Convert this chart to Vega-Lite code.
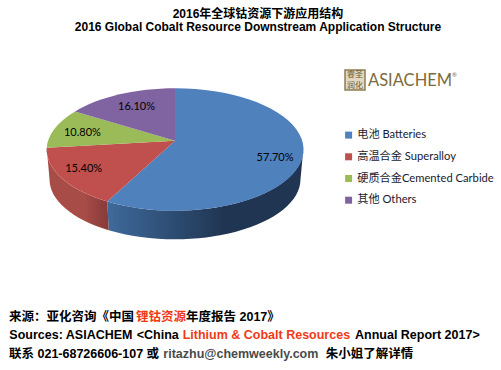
{"$schema":"https://vega.github.io/schema/vega-lite/v6.json","width":501,"height":370,"padding":0,"autosize":"none","background":"white","view":{"stroke":null},
"title":{"text":"2016年全球钴资源下游应用结构","subtitle":"2016 Global Cobalt Resource Downstream Application Structure","font":"Liberation Sans, Noto Sans CJK SC","subtitleFont":"Liberation Sans","fontSize":12,"subtitleFontSize":12,"fontWeight":"bold","subtitleFontWeight":"bold","color":"#000000","subtitleColor":"#000000","subtitlePadding":1,"anchor":"middle","frame":"group","dx":7.5,"dy":34,"offset":0},
"data":{"values":[{"name":"电池 Batteries","share":57.7},{"name":"高温合金 Superalloy","share":15.4},{"name":"硬质合金Cemented Carbide","share":10.8},{"name":"其他 Others","share":16.1}]},
"encoding":{"x":{"type":"quantitative","scale":{"domain":[-175,326],"nice":false,"zero":false},"axis":null},"y":{"type":"quantitative","scale":{"domain":[-225,145],"nice":false,"zero":false},"axis":null}},
"layer":[
{"transform":[{"filter":"datum.share==57.7"}],"mark":{"type":"point","filled":true,"opacity":1,"size":4,"strokeWidth":0,"shape":"M-67.7 56.4 L-66.3 85.2 A125.5 60 0 0 0 125.5 34.3 L128.3 4.5 A128.3 61.2 0 0 1 -67.7 56.4 Z","fill":{"gradient":"linear","x1":0,"y1":0,"x2":1,"y2":0,"stops":[{"offset":0,"color":"#3f6a9b"},{"offset":0.6,"color":"#1f3552"},{"offset":1,"color":"#1f3552"}]}},"encoding":{"x":{"datum":0},"y":{"datum":0}}},
{"transform":[{"filter":"datum.share==15.4"}],"mark":{"type":"point","filled":true,"opacity":1,"size":4,"strokeWidth":0,"shape":"M-128.3 2.7 L-125.5 34.3 A125.5 60 0 0 0 -66.3 85.2 L-67.7 56.4 A128.3 61.2 0 0 1 -128.3 2.7 Z","fill":{"gradient":"linear","x1":0,"y1":0,"x2":1,"y2":0,"stops":[{"offset":0,"color":"#a84c48"},{"offset":0.6,"color":"#a84c48"},{"offset":1,"color":"#863a37"}]}},"encoding":{"x":{"datum":0},"y":{"datum":0}}},
{"mark":{"type":"point","filled":true,"opacity":1,"size":4,"strokeWidth":0},
"encoding":{"x":{"datum":0},"y":{"datum":0},"shape":{"field":"share","type":"nominal","legend":null,"scale":{"domain":[57.7,15.4,10.8,16.1],"range":["M0 -4.3 L0 -56.7 A128.3 61.2 0 1 1 -67.7 56.4 Z","M0 -4.3 L-67.7 56.4 A128.3 61.2 0 0 1 -128.3 2.7 Z","M0 -4.3 L-128.3 2.7 A128.3 61.2 0 0 1 -100 -33.6 Z","M0 -4.3 L-100 -33.6 A128.3 61.2 0 0 1 0 -56.7 Z"]}},
"color":{"field":"name","type":"nominal","sort":null,"scale":{"domain":["电池 Batteries","高温合金 Superalloy","硬质合金Cemented Carbide","其他 Others"],"range":["#4f81bd","#c0504d","#9bbb59","#8064a2"]},
"legend":{"title":null,"orient":"none","legendX":343,"legendY":129.5,"symbolType":"square","symbolSize":49,"symbolStrokeWidth":0,"labelFont":"Lato, Noto Sans CJK SC","labelFontSize":11.2,"labelColor":"#1a1a2e","rowPadding":9.7,"labelOffset":3,"labelLimit":170}}}},
{"transform":[{"window":[{"op":"sum","field":"share","as":"cum"}]},{"calculate":"(datum.cum-datum.share/2)*PI/50","as":"mid"},{"calculate":"100*sin(datum.mid)+{'57.7':3,'15.4':-9,'10.8':5,'16.1':10}[''+datum.share]","as":"lx"},{"calculate":"43*cos(datum.mid)+{'57.7':-2.7,'15.4':0,'10.8':2.3,'16.1':0}[''+datum.share]","as":"ly"},{"calculate":"format(datum.share,'.2f')+'%'","as":"pct"}],
"mark":{"type":"text","font":"Lato","fontSize":11,"color":"#000000"},"encoding":{"x":{"field":"lx"},"y":{"field":"ly"},"text":{"field":"pct"}}},
{"data":{"values":[{"t":"M"}]},"mark":{"type":"square","filled":true,"opacity":1,"size":400,"fill":"#e2d8c2","stroke":"#8f7d50","strokeWidth":1.5},"encoding":{"x":{"datum":180},"y":{"datum":65}}},
{"data":{"values":[{"t":"睿圣"}]},"mark":{"type":"text","font":"Noto Sans CJK SC","fontSize":8,"color":"#6b5a30"},"encoding":{"x":{"datum":180},"y":{"datum":70.5},"text":{"field":"t"}}},
{"data":{"values":[{"t":"润化"}]},"mark":{"type":"text","font":"Noto Sans CJK SC","fontSize":8,"color":"#6b5a30"},"encoding":{"x":{"datum":180},"y":{"datum":59.5},"text":{"field":"t"}}},
{"data":{"values":[{"t":"ASIACHEM"}]},"mark":{"type":"text","font":"Lato","fontSize":16.5,"color":"#7d6b3b","align":"left"},"encoding":{"x":{"datum":193},"y":{"datum":64},"text":{"field":"t"}}},
{"data":{"values":[{"t":"®"}]},"mark":{"type":"text","font":"Lato","fontSize":6,"color":"#7d6b3b","align":"left"},"encoding":{"x":{"datum":277},"y":{"datum":70},"text":{"field":"t"}}},
{"data":{"values":[{"t":"来源：亚化咨询《中国"}]},"mark":{"type":"text","font":"Liberation Sans, Noto Sans CJK SC","fontSize":12.5,"fontWeight":"bold","align":"left","color":"#000000"},"encoding":{"x":{"datum":-166},"y":{"datum":-171.5},"text":{"field":"t"}}},
{"data":{"values":[{"t":"锂钴资源"}]},"mark":{"type":"text","font":"Liberation Sans, Noto Sans CJK SC","fontSize":12.5,"fontWeight":"bold","align":"left","color":"#f03a17"},"encoding":{"x":{"datum":-39},"y":{"datum":-171.5},"text":{"field":"t"}}},
{"data":{"values":[{"t":"年度报告 2017》"}]},"mark":{"type":"text","font":"Liberation Sans, Noto Sans CJK SC","fontSize":12.5,"fontWeight":"bold","align":"left","color":"#000000"},"encoding":{"x":{"datum":11},"y":{"datum":-171.5},"text":{"field":"t"}}},
{"data":{"values":[{"t":"Sources: ASIACHEM"}]},"mark":{"type":"text","font":"Liberation Sans","fontSize":12.5,"fontWeight":"bold","align":"left","color":"#000000"},"encoding":{"x":{"datum":-165.7},"y":{"datum":-190},"text":{"field":"t"}}},
{"data":{"values":[{"t":"<China"}]},"mark":{"type":"text","font":"Liberation Sans","fontSize":12.5,"fontWeight":"bold","align":"left","color":"#000000"},"encoding":{"x":{"datum":-38.3},"y":{"datum":-190},"text":{"field":"t"}}},
{"data":{"values":[{"t":"Lithium & Cobalt Resources"}]},"mark":{"type":"text","font":"Liberation Sans","fontSize":12.5,"fontWeight":"bold","align":"left","color":"#f03a17"},"encoding":{"x":{"datum":7.7},"y":{"datum":-190},"text":{"field":"t"}}},
{"data":{"values":[{"t":"Annual Report 2017>"}]},"mark":{"type":"text","font":"Liberation Sans","fontSize":12.5,"fontWeight":"bold","align":"left","color":"#000000"},"encoding":{"x":{"datum":180},"y":{"datum":-190},"text":{"field":"t"}}},
{"data":{"values":[{"t":"联系 021-68726606-107 或"}]},"mark":{"type":"text","font":"Liberation Sans, Noto Sans CJK SC","fontSize":12.5,"fontWeight":"bold","align":"left","color":"#000000"},"encoding":{"x":{"datum":-166},"y":{"datum":-209},"text":{"field":"t"}}},
{"data":{"values":[{"t":"ritazhu@chemweekly.com"}]},"mark":{"type":"text","font":"Liberation Sans","fontSize":12.5,"fontWeight":"bold","align":"left","color":"#4a4a4a"},"encoding":{"x":{"datum":-11.7},"y":{"datum":-209},"text":{"field":"t"}}},
{"data":{"values":[{"t":"朱小姐了解详情"}]},"mark":{"type":"text","font":"Noto Sans CJK SC","fontSize":12.5,"fontWeight":"bold","align":"left","color":"#000000"},"encoding":{"x":{"datum":150.7},"y":{"datum":-209},"text":{"field":"t"}}}
]}
